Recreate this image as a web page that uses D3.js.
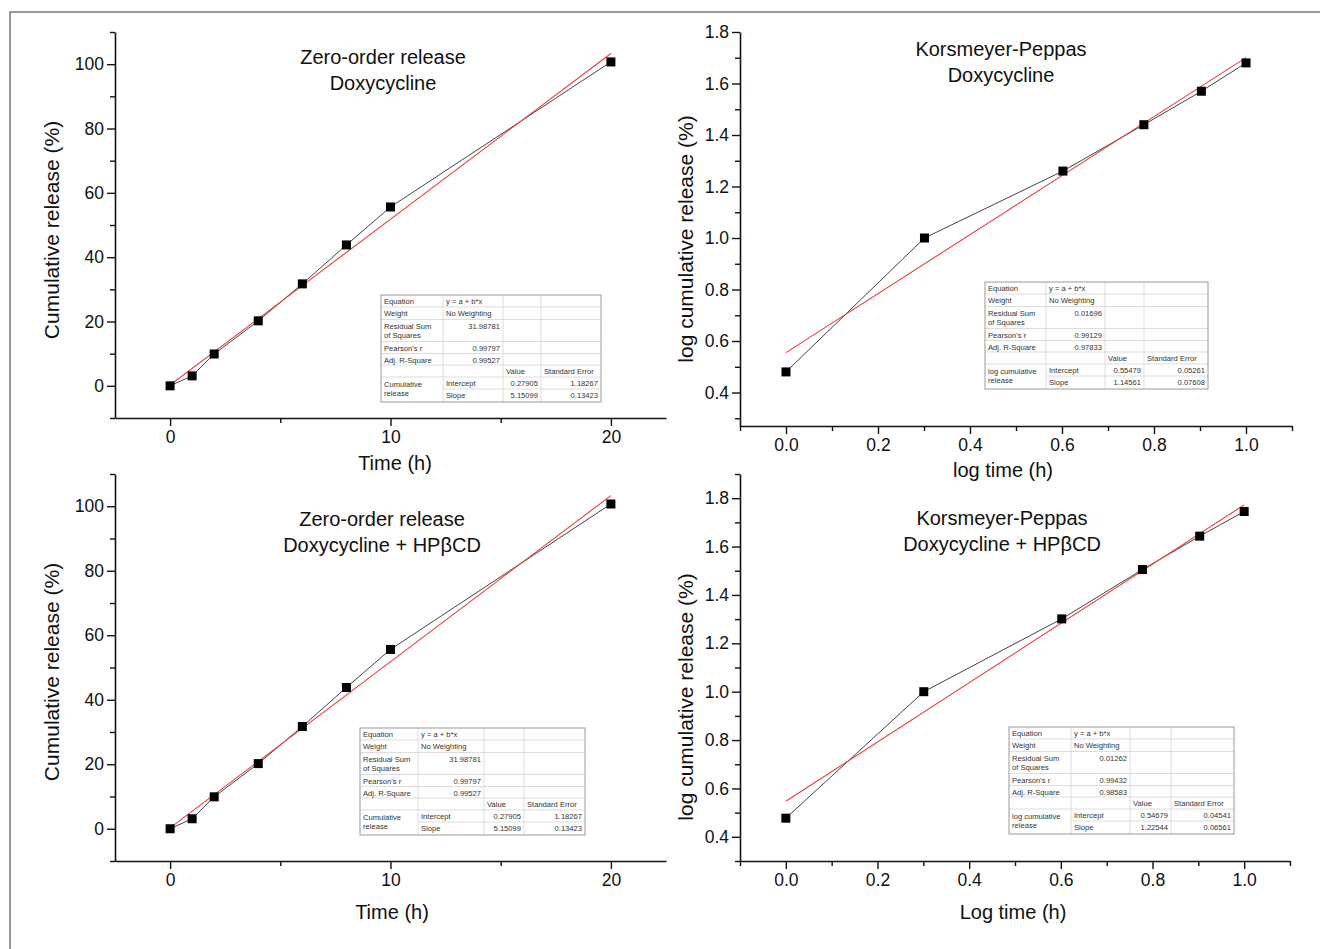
<!DOCTYPE html>
<html>
<head>
<meta charset="utf-8">
<script src="https://cdn.jsdelivr.net/npm/d3@7"></script>
<style>
  body { margin: 0; background: #fff; }
  svg { display: block; font-family: "Liberation Sans", Arial, sans-serif; }
</style>
</head>
<body>
<div id="chart"></div>
<script>
// --- data ---
const zeroTime = [0, 1, 2, 4, 6, 8, 10, 20];
const zeroRelease = [0, 3.1, 9.9, 20.2, 31.7, 43.8, 55.6, 100.7];
const kpLogTime = [0, 0.301, 0.602, 0.778, 0.903, 1.0];
const kpReleaseDoxy = [0.48, 1.0, 1.26, 1.44, 1.57, 1.68];
const kpReleaseHp = [0.477, 1.0, 1.301, 1.505, 1.643, 1.745];

// linear fits [intercept, slope]
const fitZero = [0.27905, 5.15099];
const fitKpDoxy = [0.55479, 1.14561];
const fitKpHp = [0.54679, 1.22544];

// fit tables
const tableZero = ["31.98781", "0.99797", "0.99527", "0.27905", "1.18267", "5.15099", "0.13423"];
const tableKpDoxy = ["0.01696", "0.99129", "0.97833", "0.55479", "0.05261", "1.14561", "0.07608"];
const tableKpHp = ["0.01262", "0.99432", "0.98583", "0.54679", "0.04541", "1.22544", "0.06561"];

const zeroTicksX = [0, 10, 20], zeroMinorX = [5, 15];
const zeroTicksY = [0, 20, 40, 60, 80, 100], zeroMinorY = [-10, 10, 30, 50, 70, 90, 110];
const kpTicksX = [0, 0.2, 0.4, 0.6, 0.8, 1.0], kpMinorX = [-0.1, 0.1, 0.3, 0.5, 0.7, 0.9, 1.1];
const kpTicksY = [0.4, 0.6, 0.8, 1.0, 1.2, 1.4, 1.6, 1.8], kpMinorY = [0.3, 0.5, 0.7, 0.9, 1.1, 1.3, 1.5, 1.7, 1.9];

const W = 1320, H = 949;
const svg = d3.select("#chart").append("svg").attr("width", W).attr("height", H);

// outer frame (runs off the page at right and bottom)
svg.append("rect").attr("x", 10).attr("y", 12).attr("width", 1400).attr("height", 1000)
  .attr("fill", "none").attr("stroke", "#555").attr("stroke-width", 1.2);

const panels = [
  { x0: 115, x1: 666, y0: 32, y1: 418, xDom: [-2.5, 22.5], yDom: [-10, 110],
    xs: zeroTime, ys: zeroRelease, fit: fitZero, tbl: tableZero, tblLabel: ["Cumulative", "release"],
    tx: 381, ty: 295, cols: [62, 60, 38, 60],
    title: ["Zero-order release", "Doxycycline"], titleX: 383, titleY: 64,
    xTicks: zeroTicksX, xMinor: zeroMinorX, yTicks: zeroTicksY, yMinor: zeroMinorY, fmtX: d3.format("d"), fmtY: d3.format("d"),
    xLabel: "Time (h)", xLabX: 395, xLabY: 470, yLabel: "Cumulative release (%)", yLabX: 52, yLabY: 230 },
  { x0: 740, x1: 1292, y0: 32, y1: 426, xDom: [-0.1, 1.1], yDom: [0.27, 1.8],
    xs: kpLogTime, ys: kpReleaseDoxy, fit: fitKpDoxy, tbl: tableKpDoxy, tblLabel: ["log cumulative", "release"],
    tx: 985, ty: 282, cols: [61, 59, 39, 64],
    title: ["Korsmeyer-Peppas", "Doxycycline"], titleX: 1001, titleY: 56,
    xTicks: kpTicksX, xMinor: kpMinorX, yTicks: kpTicksY, yMinor: kpMinorY.filter(v => v < 1.85), fmtX: d3.format(".1f"), fmtY: d3.format(".1f"),
    xLabel: "log time (h)", xLabX: 1003, xLabY: 477, yLabel: "log cumulative release (%)", yLabX: 686, yLabY: 239 },
  { x0: 115, x1: 666, y0: 474, y1: 861, xDom: [-2.5, 22.5], yDom: [-10, 110],
    xs: zeroTime, ys: zeroRelease, fit: fitZero, tbl: tableZero, tblLabel: ["Cumulative", "release"],
    tx: 360, ty: 728, cols: [58, 66, 40, 61],
    title: ["Zero-order release", "Doxycycline + HPβCD"], titleX: 382, titleY: 526,
    xTicks: zeroTicksX, xMinor: zeroMinorX, yTicks: zeroTicksY, yMinor: zeroMinorY, fmtX: d3.format("d"), fmtY: d3.format("d"),
    xLabel: "Time (h)", xLabX: 392, xLabY: 919, yLabel: "Cumulative release (%)", yLabX: 52, yLabY: 672 },
  { x0: 740, x1: 1290, y0: 474, y1: 861, xDom: [-0.1, 1.1], yDom: [0.3, 1.9],
    xs: kpLogTime, ys: kpReleaseHp, fit: fitKpHp, tbl: tableKpHp, tblLabel: ["log cumulative", "release"],
    tx: 1009, ty: 727, cols: [62, 59, 41, 63],
    title: ["Korsmeyer-Peppas", "Doxycycline + HPβCD"], titleX: 1002, titleY: 525,
    xTicks: kpTicksX, xMinor: kpMinorX, yTicks: kpTicksY, yMinor: kpMinorY, fmtX: d3.format(".1f"), fmtY: d3.format(".1f"),
    xLabel: "Log time (h)", xLabX: 1013, xLabY: 919, yLabel: "log cumulative release (%)", yLabX: 686, yLabY: 697 }
];

panels.forEach(drawPanel);

function drawPanel(p) {
  const x = d3.scaleLinear().domain(p.xDom).range([p.x0, p.x1]);
  const y = d3.scaleLinear().domain(p.yDom).range([p.y1, p.y0]);
  const g = svg.append("g");

  // minor ticks
  g.append("g").attr("transform", `translate(0,${p.y1})`)
    .call(d3.axisBottom(x).tickValues(p.xMinor).tickSize(5).tickSizeOuter(0).tickFormat(""))
    .call(a => a.select(".domain").remove());
  g.append("g").attr("transform", `translate(${p.x0},0)`)
    .call(d3.axisLeft(y).tickValues(p.yMinor).tickSize(5).tickSizeOuter(0).tickFormat(""))
    .call(a => a.select(".domain").remove());

  // major axes
  const xa = g.append("g").attr("transform", `translate(0,${p.y1})`)
    .call(d3.axisBottom(x).tickValues(p.xTicks).tickSize(8).tickSizeOuter(0).tickPadding(5).tickFormat(p.fmtX));
  const ya = g.append("g").attr("transform", `translate(${p.x0},0)`)
    .call(d3.axisLeft(y).tickValues(p.yTicks).tickSize(8).tickSizeOuter(0).tickPadding(3).tickFormat(p.fmtY));
  [xa, ya].forEach(a => {
    a.selectAll("text").attr("font-size", 17.5).attr("fill", "#111").attr("font-family", "Liberation Sans, Arial, sans-serif");
    a.select(".domain").attr("stroke-width", 1.6).attr("stroke", "#111");
  });
  g.selectAll(".tick line").attr("stroke", "#111").attr("stroke-width", 1.4);

  // axis titles
  g.append("text").attr("x", p.xLabX).attr("y", p.xLabY)
    .attr("text-anchor", "middle").attr("font-size", 20).attr("fill", "#111").text(p.xLabel);
  g.append("text").attr("transform", `translate(${p.yLabX},${p.yLabY}) rotate(-90)`)
    .attr("text-anchor", "middle").attr("dy", "0.35em").attr("font-size", 21).attr("fill", "#111").text(p.yLabel);

  // chart title
  p.title.forEach((t, i) => g.append("text").attr("x", p.titleX).attr("y", p.titleY + i * 26)
    .attr("text-anchor", "middle").attr("font-size", 20).attr("fill", "#111").text(t));

  // data line + markers
  const pts = p.xs.map((v, i) => [v, p.ys[i]]);
  g.append("path").datum(pts)
    .attr("d", d3.line().x(d => x(d[0])).y(d => y(d[1])))
    .attr("fill", "none").attr("stroke", "#444").attr("stroke-width", 1);

  // linear fit
  const xr = d3.extent(p.xs);
  g.append("line")
    .attr("x1", x(xr[0])).attr("y1", y(p.fit[0] + p.fit[1] * xr[0]))
    .attr("x2", x(xr[1])).attr("y2", y(p.fit[0] + p.fit[1] * xr[1]))
    .attr("stroke", "#ef3b3b").attr("stroke-width", 1.1);

  g.selectAll(".pt").data(pts).enter().append("rect")
    .attr("x", d => x(d[0]) - 4.5).attr("y", d => y(d[1]) - 4.5)
    .attr("width", 9).attr("height", 9).attr("fill", "#000");

  drawTable(p);
}

function drawTable(p) {
  const rowsH = [12, 12.5, 22, 12, 11.5, 12, 12, 13];
  const cx = [p.tx];
  p.cols.forEach(w => cx.push(cx[cx.length - 1] + w));
  const ry = [p.ty];
  rowsH.forEach(h => ry.push(ry[ry.length - 1] + h));
  const t = svg.append("g").attr("font-size", 7.6).attr("fill", "#333");
  const right = cx[4], bottom = ry[8];

  t.append("rect").attr("x", p.tx).attr("y", p.ty).attr("width", right - p.tx).attr("height", bottom - p.ty)
    .attr("fill", "#fff").attr("stroke", "none");
  // inner lines
  const lines = [];
  for (let i = 1; i < 8; i++) {
    // merged label cell for last two rows
    if (i === 7) lines.push([cx[1], ry[i], right, ry[i]]);
    else lines.push([p.tx, ry[i], right, ry[i]]);
  }
  for (let j = 1; j < 4; j++) lines.push([cx[j], p.ty, cx[j], bottom]);
  t.selectAll(".gl").data(lines).enter().append("line")
    .attr("x1", d => d[0]).attr("y1", d => d[1]).attr("x2", d => d[2]).attr("y2", d => d[3])
    .attr("stroke", "#d4d4d4").attr("stroke-width", 0.8);
  t.append("rect").attr("x", p.tx).attr("y", p.ty).attr("width", right - p.tx).attr("height", bottom - p.ty)
    .attr("fill", "none").attr("stroke", "#999").attr("stroke-width", 1);

  const L = (txt, c, r, dy) => t.append("text").attr("x", cx[c] + 3).attr("y", ry[r] + (dy || 9)).text(txt);
  const R = (txt, c, r, dy) => t.append("text").attr("x", cx[c + 1] - 3).attr("y", ry[r] + (dy || 9)).attr("text-anchor", "end").text(txt);

  L("Equation", 0, 0); L("y = a + b*x", 1, 0);
  L("Weight", 0, 1); L("No Weighting", 1, 1);
  L("Residual Sum", 0, 2); L("of Squares", 0, 2, 18); R(p.tbl[0], 1, 2);
  L("Pearson's r", 0, 3); R(p.tbl[1], 1, 3);
  L("Adj. R-Square", 0, 4); R(p.tbl[2], 1, 4);
  L("Value", 2, 5); L("Standard Error", 3, 5);
  L(p.tblLabel[0], 0, 6, 10); L(p.tblLabel[1], 0, 6, 19);
  L("Intercept", 1, 6); R(p.tbl[3], 2, 6); R(p.tbl[4], 3, 6);
  L("Slope", 1, 7); R(p.tbl[5], 2, 7); R(p.tbl[6], 3, 7);
}
</script>
</body>
</html>
